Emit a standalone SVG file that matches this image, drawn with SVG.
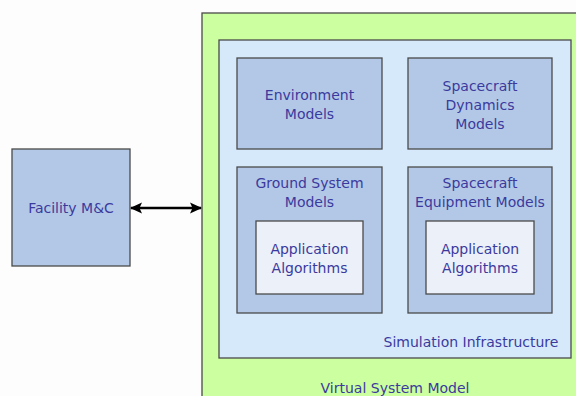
<svg xmlns="http://www.w3.org/2000/svg" width="576" height="396" viewBox="0 0 576 396">
<defs>
<style>
.box{stroke:#4a4a4a;stroke-width:1.3}
.green{fill:#ccff9f}
.infra{fill:#d5e9fb}
.model{fill:#b3c8e6}
.app{fill:#ebf0f9}
text{font-family:"DejaVu Sans",Verdana,sans-serif;font-size:14px;fill:#3b3a9e;text-anchor:middle}
.conn{stroke:#000;stroke-width:2.6;fill:none}
</style>
<marker id="ah" markerWidth="12" markerHeight="12" refX="11" refY="6" orient="auto-start-reverse" markerUnits="userSpaceOnUse">
<path d="M0,0.5 L12,6 L0,11.5 L2.5,6 Z" fill="#000"/>
</marker>
</defs>
<rect width="576" height="396" fill="#fdfdfd"/>
<g id="vsm">
<rect class="box green" x="202" y="13" width="380" height="390"/>
<text x="395" y="393">Virtual System Model</text>
</g>
<g id="infra">
<rect class="box infra" x="219" y="40" width="352" height="318"/>
<text x="471" y="347">Simulation Infrastructure</text>
</g>
<g id="env">
<rect class="box model" x="237" y="58" width="145" height="91"/>
<text x="309.5" y="100">Environment</text>
<text x="309.5" y="119">Models</text>
</g>
<g id="dyn">
<rect class="box model" x="408" y="58" width="144" height="91"/>
<text x="480" y="90.5">Spacecraft</text>
<text x="480" y="110">Dynamics</text>
<text x="480" y="129">Models</text>
</g>
<g id="ground">
<rect class="box model" x="237" y="167" width="145" height="146"/>
<text x="309.5" y="188">Ground System</text>
<text x="309.5" y="207">Models</text>
</g>
<g id="app1">
<rect class="box app" x="256" y="221" width="107" height="73"/>
<text x="309.5" y="254">Application</text>
<text x="309.5" y="273">Algorithms</text>
</g>
<g id="equip">
<rect class="box model" x="408" y="167" width="144" height="146"/>
<text x="480" y="188">Spacecraft</text>
<text x="480" y="207">Equipment Models</text>
</g>
<g id="app2">
<rect class="box app" x="426" y="221" width="108" height="73"/>
<text x="480" y="254">Application</text>
<text x="480" y="273">Algorithms</text>
</g>
<g id="facility">
<rect class="box model" x="12" y="149" width="118" height="117"/>
<text x="71" y="213">Facility M&amp;C</text>
</g>
<g id="connectors">
<line class="conn" x1="131" y1="208" x2="201" y2="208" marker-start="url(#ah)" marker-end="url(#ah)"/>
</g>
</svg>
